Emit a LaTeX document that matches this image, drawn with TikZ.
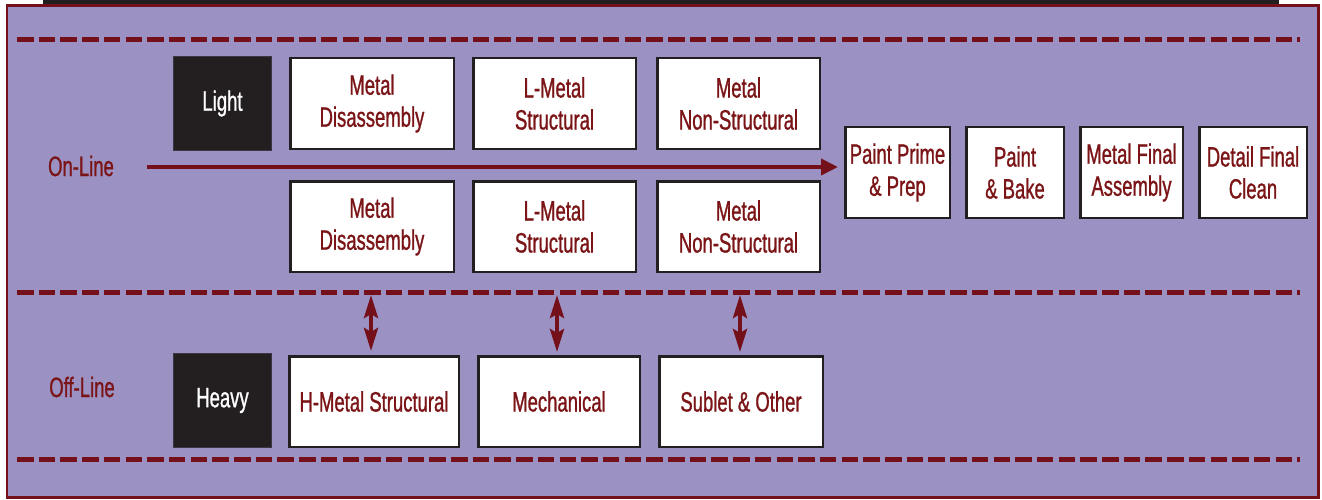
\documentclass[tikz,border=0pt]{standalone}
\usepackage{fontspec}
\setmainfont{Liberation Sans}[FakeStretch=0.66, FakeBold=0.9]
\usetikzlibrary{arrows.meta}
\definecolor{panel}{HTML}{9B92C3}
\definecolor{wine}{HTML}{74101A}
\definecolor{ink}{HTML}{7B1416}
\definecolor{coal}{HTML}{231F20}
\tikzset{
  lane/.style={draw=wine, line width=5pt, dash pattern=on 16.5pt off 5.2pt},
  stepbox/.style={draw=coal, line width=2.5pt, fill=white, text=ink, align=center,
    inner sep=0pt, font=\fontsize{28}{32}\selectfont},
  tagbox/.style={draw=coal!80!panel, line width=1pt, fill=coal, text=white,
    inner sep=0pt, minimum width=98pt, minimum height=94pt, font=\fontsize{28}{32}\selectfont},
  lanelabel/.style={text=ink, inner sep=0pt, font=\fontsize{28}{32}\selectfont},
  flow/.style={draw=wine, line width=4pt, -{Triangle[length=17pt,width=16pt]}},
  swap/.style={draw=wine, line width=4pt,
    {Stealth[length=23pt,width=14pt,inset=4pt]}-{Stealth[length=23pt,width=14pt,inset=4pt]}},
}
\begin{document}
\begin{tikzpicture}[x=1pt,y=-1pt]
  % page and frame
  \useasboundingbox (0,0) rectangle (1322,500);
  \fill[coal] (43,0) rectangle (1279,4);
  \draw[wine, line width=2.5pt, fill=panel] (7,5.5) rectangle (1318.5,497.5);

  % lane separators
  \draw[lane] (17,40) -- (1300,40);
  \draw[lane] (17,292) -- (1300,292);
  \draw[lane] (17,459) -- (1300,459);

  % lane labels
  \node[lanelabel] (online) at (81,166) {On-Line};
  \node[lanelabel] (offline) at (82,387) {Off-Line};

  % light repair track
  \node[tagbox] (light) at (222.5,103.5) {Light};
  \node[stepbox, minimum width=163.5pt, minimum height=90.5pt] (md1) at (372,103.5) {Metal\\Disassembly};
  \node[stepbox, minimum width=162.5pt, minimum height=90.5pt] (ls1) at (554.5,103.5) {L-Metal\\Structural};
  \node[stepbox, minimum width=162.5pt, minimum height=90.5pt] (mn1) at (738.5,103.5) {Metal\\Non-Structural};
  \node[stepbox, minimum width=163.5pt, minimum height=90.5pt] (md2) at (372,226.5) {Metal\\Disassembly};
  \node[stepbox, minimum width=162.5pt, minimum height=90.5pt] (ls2) at (554.5,226.5) {L-Metal\\Structural};
  \node[stepbox, minimum width=162.5pt, minimum height=90.5pt] (mn2) at (738.5,226.5) {Metal\\Non-Structural};

  % finishing steps
  \node[stepbox, minimum width=104.5pt, minimum height=90.5pt] (prime) at (897.5,172.5) {Paint Prime\\\& Prep};
  \node[stepbox, minimum width=97.5pt, minimum height=90.5pt] (bake) at (1015,172.5) {Paint\\\& Bake};
  \node[stepbox, minimum width=102.5pt, minimum height=90.5pt] (final) at (1131.5,172.5) {Metal Final\\Assembly};
  \node[stepbox, minimum width=107.5pt, minimum height=90.5pt] (clean) at (1253,172.5) {Detail Final\\Clean};

  % heavy repair track
  \node[tagbox] (heavy) at (222.5,400.5) {Heavy};
  \node[stepbox, minimum width=169.5pt, minimum height=90.5pt] (hms) at (374,401.5) {H-Metal Structural};
  \node[stepbox, minimum width=161.5pt, minimum height=90.5pt] (mech) at (559,401.5) {Mechanical};
  \node[stepbox, minimum width=163.5pt, minimum height=90.5pt] (sublet) at (741,401.5) {Sublet \& Other};

  % main flow
  \coordinate (start) at (147,167);
  \draw[flow, shorten >=6pt] (start) -- (start -| prime.west);

  % exchanges between tracks
  \draw[swap, shorten <=22pt, shorten >=4pt] (md2.south -| 371,0) -- (371,0 |- hms.north);
  \draw[swap, shorten <=22pt, shorten >=3pt] (ls2.south -| 557,0) -- (557,0 |- mech.north);
  \draw[swap, shorten <=22pt, shorten >=3pt] (mn2.south -| 740,0) -- (740,0 |- sublet.north);
\end{tikzpicture}
\end{document}
